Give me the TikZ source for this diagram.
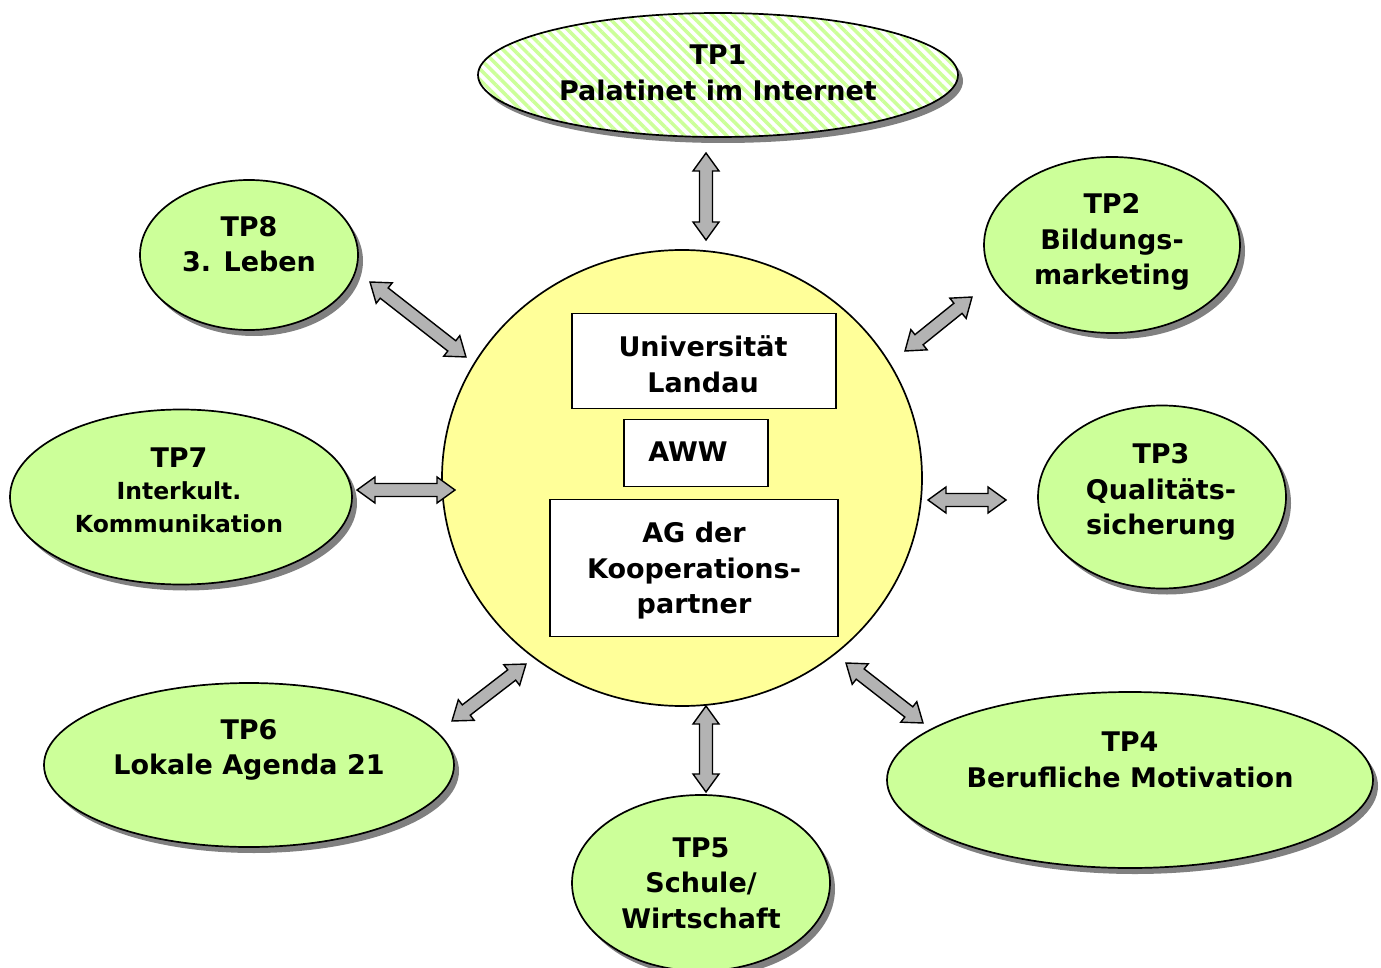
\documentclass[tikz,border=0pt]{standalone}
\usepackage{fontspec}
\setmainfont{DejaVu Sans}
\usetikzlibrary{shapes.geometric,shadows,patterns.meta,calc}
\definecolor{lgreen}{HTML}{CCFF99}
\definecolor{lyellow}{HTML}{FFFF99}
\definecolor{agray}{HTML}{B3B3B3}
\definecolor{shgray}{HTML}{808080}
\tikzset{
  tpnode/.style={ellipse, draw=black, line width=1.7pt, fill=lgreen, inner sep=0pt,
    general shadow={fill=shgray, shadow xshift=5pt, shadow yshift=-6pt}},
  tptext/.style={align=center, font=\bfseries\fontsize{27}{35.5}\selectfont, inner sep=0pt},
  boxnode/.style={draw=black, line width=1.4pt, fill=white, inner sep=0pt},
  arrowbody/.style={draw=black, line width=1.4pt, fill=agray, line join=miter},
}
\newcommand\blkarrow[2]{%
  \path[arrowbody] let \p1=(#1), \p2=(#2),
    \n1={atan2(\y2-\y1,\x2-\x1)}, \n2={veclen(\x2-\x1,\y2-\y1)} in
    {[shift={(\p1)}, rotate=\n1]
     (0pt,0pt) -- (18pt,13pt) -- (18pt,6.5pt) -- (\n2-18pt,6.5pt) -- (\n2-18pt,13pt)
     -- (\n2,0pt) -- (\n2-18pt,-13pt) -- (\n2-18pt,-6.5pt) -- (18pt,-6.5pt)
     -- (18pt,-13pt) -- cycle};}
\begin{document}
\begin{tikzpicture}[x=1pt,y=-1pt]
\useasboundingbox (0,0) rectangle (1381,968);
% central circle
\node[ellipse, draw=black, line width=1.7pt, fill=lyellow, minimum width=480pt, minimum height=456pt, inner sep=0pt] (c) at (682,478) {};
\node[boxnode, minimum width=264pt, minimum height=95pt] (uni) at (704,361) {};
\node[tptext] (unit) at (703,364) {Universität\\Landau};
\node[boxnode, minimum width=144pt, minimum height=67pt] (aww) at (696,453) {};
\node[tptext] (awwt) at (688,452) {AWW};
\node[boxnode, minimum width=288pt, minimum height=137pt] (ag) at (694,568) {};
\node[tptext] (agt) at (694,571) {AG der\\Kooperations-\\partner};
% TP1
\node[tpnode, fill=none, minimum width=480pt, minimum height=124pt,
  preaction={fill=white},
  pattern={Lines[angle=-45, distance=7.5pt, line width=3.5pt]}, pattern color=lgreen] (tp1) at (718,75) {};
\node[tptext] (tp1t) at (718,73) {TP1\\Palatinet im Internet};
% TP8
\node[tpnode, minimum width=218pt, minimum height=150pt] (tp8) at (249,255) {};
\node[tptext] (tp8t) at (249,244) {TP8\\3. Leben};
% TP2
\node[tpnode, minimum width=256pt, minimum height=176pt] (tp2) at (1112,245) {};
\node[tptext] (tp2t) at (1112,242) {TP2\\Bildungs-\\marketing};
% TP7
\node[tpnode, minimum width=342pt, minimum height=175pt] (tp7) at (181,497) {};
\node[tptext, font=\bfseries\fontsize{23.5}{32.5}\selectfont] (tp7t) at (179,490) {{\fontsize{27}{32.5}\selectfont TP7}\\Interkult.\\Kommunikation};
% TP3
\node[tpnode, minimum width=248pt, minimum height=183pt] (tp3) at (1162,497) {};
\node[tptext] (tp3t) at (1161,492) {TP3\\Qualitäts-\\sicherung};
% TP6
\node[tpnode, minimum width=410pt, minimum height=164pt] (tp6) at (249,765) {};
\node[tptext] (tp6t) at (249,750) {TP6\\Lokale Agenda 21};
% TP5
\node[tpnode, minimum width=258pt, minimum height=176pt] (tp5) at (701,883) {};
\node[tptext] (tp5t) at (701,883) {TP5\\Schule/\\Wirtschaft};
% TP4
\node[tpnode, minimum width=486pt, minimum height=176pt] (tp4) at (1130,780) {};
\node[tptext] (tp4t) at (1130,760) {TP4\\Berufliche Motivation};
% arrow end points
\coordinate (a1s) at (706,153); \coordinate (a1e) at (706,240);
\coordinate (a8s) at (370,282); \coordinate (a8e) at (466,357);
\coordinate (a2s) at (905,351); \coordinate (a2e) at (972,297);
\coordinate (a7s) at (357,490); \coordinate (a7e) at (455,490);
\coordinate (a3s) at (928,500); \coordinate (a3e) at (1006,500);
\coordinate (a6s) at (452,721); \coordinate (a6e) at (526,664);
\coordinate (a5s) at (706,706); \coordinate (a5e) at (706,792);
\coordinate (a4s) at (846,663); \coordinate (a4e) at (923,723);
\blkarrow{a1s}{a1e}
\blkarrow{a8s}{a8e}
\blkarrow{a2s}{a2e}
\blkarrow{a7s}{a7e}
\blkarrow{a3s}{a3e}
\blkarrow{a6s}{a6e}
\blkarrow{a5s}{a5e}
\blkarrow{a4s}{a4e}
\end{tikzpicture}
\end{document}
